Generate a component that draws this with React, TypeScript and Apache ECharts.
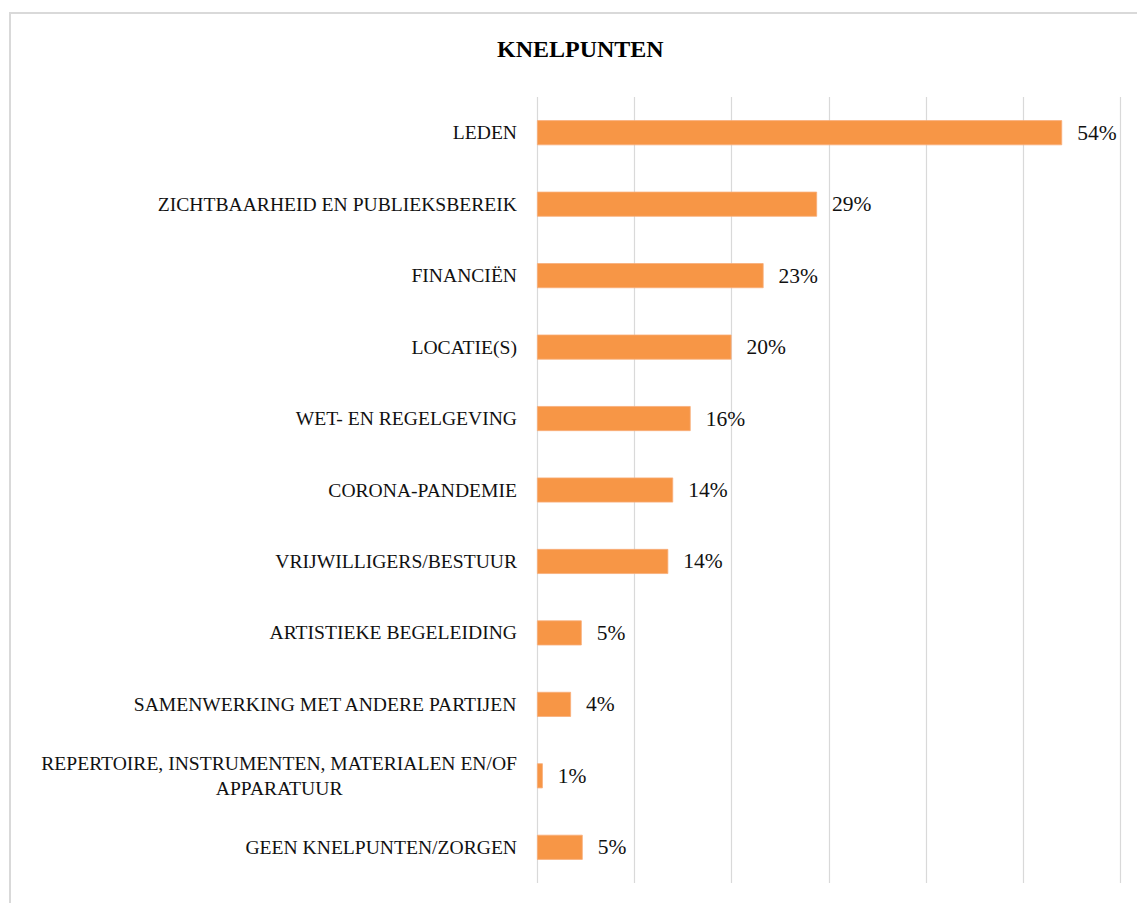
import React, { useEffect, useRef } from "react";
import * as echarts from "echarts";

const TITLE = "KNELPUNTEN";
const categories = [
  "LEDEN",
  "ZICHTBAARHEID EN PUBLIEKSBEREIK",
  "FINANCIËN",
  "LOCATIE(S)",
  "WET- EN REGELGEVING",
  "CORONA-PANDEMIE",
  "VRIJWILLIGERS/BESTUUR",
  "ARTISTIEKE BEGELEIDING",
  "SAMENWERKING MET ANDERE PARTIJEN",
  "REPERTOIRE, INSTRUMENTEN, MATERIALEN EN/OF\nAPPARATUUR",
  "GEEN KNELPUNTEN/ZORGEN",
];
const values = [54.0, 28.8, 23.3, 20.0, 15.8, 14.0, 13.5, 4.6, 3.5, 0.6, 4.7];

const FONT = "'Liberation Serif', 'DejaVu Serif', serif";

export default function App() {
  const ref = useRef<HTMLDivElement>(null);
  useEffect(() => {
    if (!ref.current) return;
    const chart = echarts.init(ref.current, null, { renderer: "svg" });
    chart.setOption({
      animation: false,
      backgroundColor: "#ffffff",
      title: {
        text: TITLE,
        left: 492,
        top: 32,
        textStyle: { fontFamily: FONT, fontSize: 24, fontWeight: "bold", color: "#000" },
      },
      graphic: [
        {
          type: "rect",
          shape: { x: 10, y: 13, width: 1200, height: 1000 },
          style: { fill: "none", stroke: "#d9d9d9", lineWidth: 2 },
          silent: true,
        },
      ],
      grid: { left: 537, right: 16.5, top: 97, bottom: 20, containLabel: false },
      xAxis: {
        type: "value",
        min: 0,
        max: 60,
        interval: 10,
        axisLabel: { show: false },
        axisLine: { show: false },
        axisTick: { show: false },
        splitLine: { show: true, lineStyle: { color: "#d9d9d9", width: 1.2 } },
      },
      yAxis: {
        type: "category",
        data: categories,
        inverse: true,
        axisLine: { show: false },
        axisTick: { show: false },
        axisLabel: {
          margin: 20,
          fontFamily: FONT,
          fontSize: 19.6,
          color: "#111",
          lineHeight: 25,
          formatter: (v: string) =>
            v
              .split("\n")
              .map((s) => "{c|" + s + "}")
              .join("\n"),
          rich: {
            c: { align: "center", fontFamily: FONT, fontSize: 19.6, color: "#111", lineHeight: 25 },
          },
        },
      },
      series: [
        {
          type: "bar",
          data: values,
          barCategoryGap: "65%",
          itemStyle: { color: "#F79646", borderColor: "#f9ad78", borderWidth: 0.8 },
          label: {
            show: true,
            position: "right",
            distance: 15,
            fontFamily: FONT,
            fontSize: 21.5,
            color: "#111",
            formatter: (p: any) => Math.round(p.value) + "%",
          },
        },
      ],
    });
    return () => chart.dispose();
  }, []);
  return (
    <div
      ref={ref}
      style={{ position: "absolute", left: 0, top: 0, width: 1137, height: 903 }}
    />
  );
}
